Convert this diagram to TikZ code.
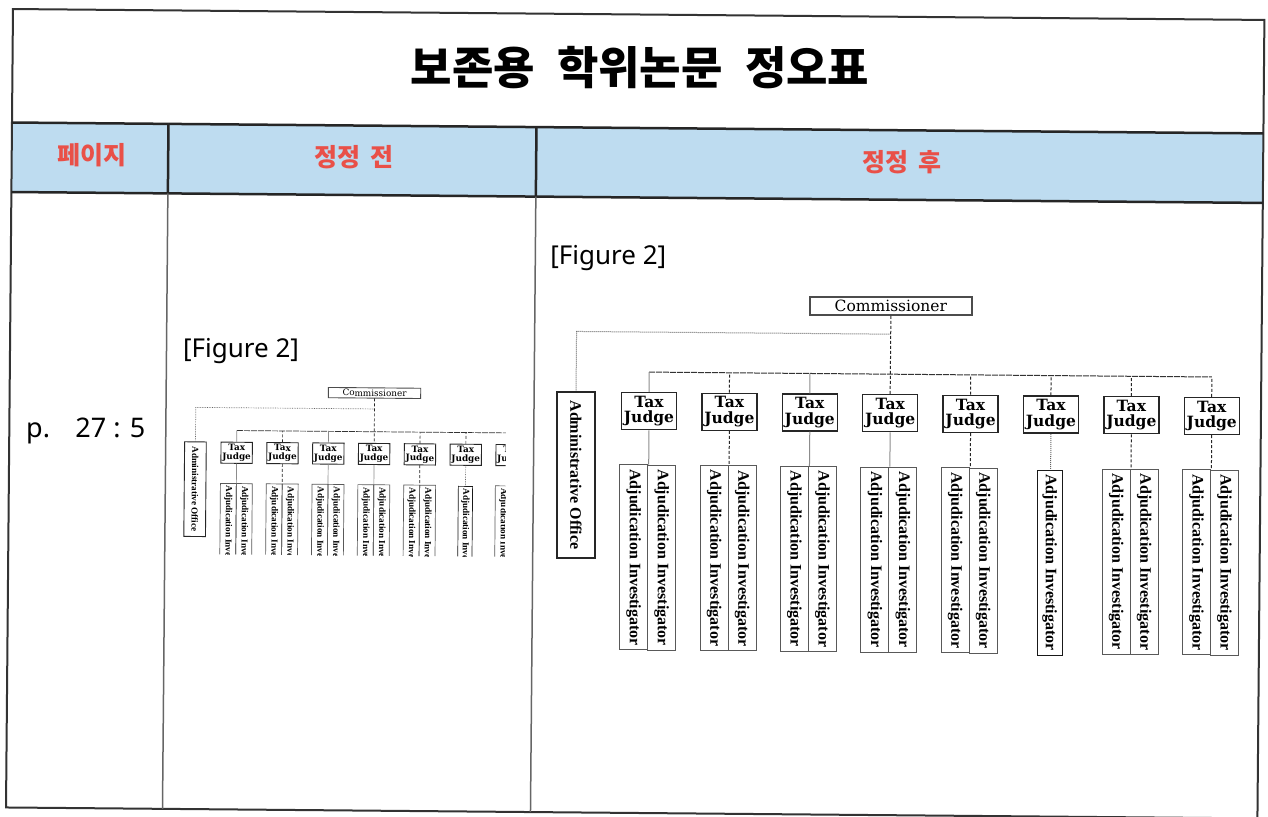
\documentclass[tikz,border=0pt]{standalone}
\usepackage{fontspec}
\newfontfamily\krfont{Noto Sans CJK KR}
\newfontfamily\labfont{Noto Sans}
\newfontfamily\chartfont{DejaVu Serif}
\newfontfamily\invfont{Liberation Serif}
\definecolor{hdrblue}{RGB}{190,220,240}
\definecolor{hdrred}{RGB}{233,80,72}
\tikzset{
  boxline/.style={line width=1.4pt},
  thinline/.style={line width=1pt},
  cbox/.style={draw=black!70, boxline, inner sep=0pt, font=\chartfont\fontsize{15.5}{16}\selectfont},
  jbox/.style={draw=black!85, boxline, inner sep=0pt, align=center, minimum width=55pt, minimum height=37pt, font=\chartfont\bfseries\fontsize{15.5}{15.5}\selectfont},
  abox/.style={draw=black!85, boxline, inner sep=0pt, rotate=-90, minimum width=166pt, minimum height=38pt, font=\invfont\bfseries\fontsize{16}{18}\selectfont},
  ibox/.style={draw=black!65, thinline, inner sep=0pt, rotate=-90, minimum width=185pt, minimum height=28pt, font=\invfont\bfseries\fontsize{16}{18}\selectfont},
  thinc/.style={draw=black!45, thinline},
  dashc/.style={draw=black!85, thinline, densely dashed},
  dotc/.style={draw=black!60, thinline, densely dotted},
  busc/.style={draw=black!80, thinline, dash pattern=on 6pt off 1pt},
  hdr/.style={font=\krfont\bfseries\fontsize{25}{30}\selectfont, text=hdrred},
  lab/.style={font=\labfont\fontsize{26}{30}\selectfont},
  frame/.style={draw=black!80, line width=2pt},
  hline/.style={draw=black!85, line width=2.5pt},
  vline/.style={draw=black!60, line width=1.5pt}
}
\newcommand\orgchart{%
  \node[cbox, minimum width=162pt, minimum height=18pt] (comm) at (0,0) {Commissioner};
  \coordinate (adj) at (0,28);
  \coordinate (bus) at (0,68);
  \node[abox] (admin) at (-313.4,171.5) {Administrative Office};
  \foreach \i/\x in {1/-241,2/-160.6,3/-80.2,4/0.2,5/80.6,6/161,7/241.4,8/321.8}{
    \node[jbox] (J\i) at (\x,107) {Tax\\Judge};}
  \foreach \i/\x in {1/-241,2/-160.6,3/-80.2,4/0.2,5/80.6,7/241.4,8/321.8}{
    \node[ibox] (IA\i) at (\x-14,253.5) {Adjudication Investigator};
    \node[ibox] (IB\i) at (\x+14,253.5) {Adjudication Investigator};}
  \node[ibox, draw=black!90, minimum height=25pt] (IA6) at (161,255) {Adjudication Investigator};
  \draw[dotc] (adj) -| (admin.west);
  \draw[busc] (J1.north |- bus) -- (J8.north |- bus);
  \draw[dashc] (comm.south) -- (J4.north);
  \foreach \i/\ts/\bs in {1/thinc/thinc,2/dashc/dashc,3/thinc/thinc,5/dashc/dashc,6/dashc/dotc,7/dashc/dashc,8/dashc/dashc}{
    \draw[\ts] (J\i.north) -- (J\i.north |- bus);
    \draw[\bs] (J\i.south) -- (J\i.south |- IA\i.west);}
  \draw[thinc] (J4.south) -- (J4.south |- IA4.west);
}
\begin{document}
\begin{tikzpicture}[x=1pt,y=-1pt]
\useasboundingbox (0,0) rectangle (1268,816);
\fill[white] (0,0) rectangle (1268,816);
\begin{scope}[rotate around={-0.5:(640,408)}]
  % table
  \fill[hdrblue] (9.5,128) rectangle (1261,197.5);
  \draw[frame] (9.5,14.5) rectangle (1261,813);
  \draw[hline] (9.5,128) -- (1261,128);
  \draw[hline] (9.5,197.5) -- (1261,197.5);
  \draw[vline] (166,128) -- (166,813);
  \draw[vline] (534,128) -- (534,813);
  \draw[hline] (166,128) -- (166,197.5);
  \draw[hline] (534,128) -- (534,197.5);
  \node[font=\krfont\bfseries\fontsize{45}{50}\selectfont] (title) at (637,68) {보존용 \hspace{12pt}학위논문 \hspace{12pt}정오표};
  \node[hdr] (h1) at (90,160) {페이지};
  \node[hdr] (h2) at (352,160) {정정 \hspace{4pt}전};
  \node[hdr] (h3) at (900,160) {정정 \hspace{4pt}후};
  \node[font=\labfont\fontsize{27}{30}\selectfont] (pg) at (86,436) {p. \hspace{16pt}27 : 5};
  \node[lab] (figL) at (240.5,355) {[Figure 2]};
  \node[lab] (figR) at (607,258) {[Figure 2]};
  % right chart
  \begin{scope}[shift={(890,304)}, name prefix=R-]
    \orgchart
  \end{scope}
  % left chart (clipped miniature)
  \begin{scope}
    \clip (178,380) rectangle (506,558);
    \begin{scope}[shift={(374.4,395.3)}, scale=0.57, transform shape, name prefix=L-,
        boxline/.style={line width=0.9pt}, thinline/.style={line width=0.7pt}]
      \orgchart
    \end{scope}
  \end{scope}
\end{scope}
\end{tikzpicture}
\end{document}
